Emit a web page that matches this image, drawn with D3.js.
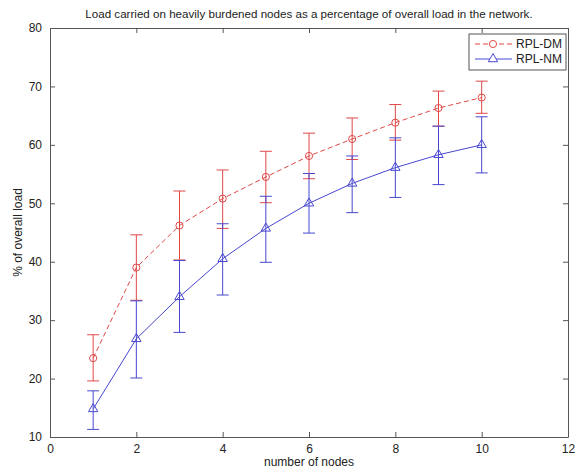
<!DOCTYPE html>
<html>
<head>
<meta charset="utf-8">
<script src="https://cdn.jsdelivr.net/npm/d3@7"></script>
<style>
  body { margin: 0; background: #fff; }
  text { font-family: "Liberation Sans", Arial, sans-serif; fill: #222; }
</style>
</head>
<body>
<div id="chart"></div>
<script>
var width = 583
var height = 472
var margin = { top: 28, right: 15, bottom: 35, left: 50 }

// values
var nodes = [1, 2, 3, 4, 5, 6, 7, 8, 9, 10]
var dmMean = [23.5, 39.0, 46.2, 50.8, 54.5, 58.1, 61.0, 63.8, 66.3, 68.1]
var dmLow = [19.6, 33.4, 40.3, 45.7, 50.1, 54.2, 57.5, 60.8, 63.2, 65.4]
var dmHigh = [27.5, 44.6, 52.1, 55.7, 58.9, 62.0, 64.6, 66.9, 69.2, 70.9]
var nmMean = [14.8, 26.8, 34.0, 40.5, 45.7, 50.0, 53.4, 56.1, 58.3, 60.0]
var nmLow = [11.3, 20.1, 27.9, 34.3, 39.9, 44.9, 48.4, 51.0, 53.2, 55.2]
var nmHigh = [17.9, 33.3, 40.2, 46.5, 51.2, 55.1, 58.1, 61.2, 63.2, 64.8]
var xTicks = [0, 2, 4, 6, 8, 10, 12]
var yTicks = [10, 20, 30, 40, 50, 60, 70, 80]

var series = [
  { name: "RPL-DM", mean: dmMean, low: dmLow, high: dmHigh, color: "#e04848", dash: "5,3", marker: "circle" },
  { name: "RPL-NM", mean: nmMean, low: nmLow, high: nmHigh, color: "#4848d0", dash: null, marker: "triangle" }
]

var svg = d3.select("#chart")
  .append("svg")
  .attr("width", width)
  .attr("height", height)

var x = d3.scaleLinear().domain([0, 12]).range([margin.left, width - margin.right])
var y = d3.scaleLinear().domain([10, 80]).range([height - margin.bottom, margin.top])

var axisColor = "#555"

// axes with inward ticks, box style
svg.append("g")
  .attr("transform", "translate(0," + y(10) + ")")
  .call(d3.axisBottom(x).tickValues(xTicks).tickSizeInner(-5).tickSizeOuter(0).tickPadding(7))
svg.append("g")
  .attr("transform", "translate(0," + y(80) + ")")
  .call(d3.axisTop(x).tickValues(xTicks).tickSizeInner(-5).tickSizeOuter(0).tickFormat(""))
svg.append("g")
  .attr("transform", "translate(" + x(0) + ",0)")
  .call(d3.axisLeft(y).tickValues(yTicks).tickSizeInner(-5).tickSizeOuter(0).tickPadding(8))
svg.append("g")
  .attr("transform", "translate(" + x(12) + ",0)")
  .call(d3.axisRight(y).tickValues(yTicks).tickSizeInner(-5).tickSizeOuter(0).tickFormat(""))

svg.selectAll(".domain, .tick line").attr("stroke", axisColor)
svg.selectAll(".tick text").style("font-size", "12px").attr("fill", "#222")

var line = d3.line()
  .x(function (d) { return x(d[0]) })
  .y(function (d) { return y(d[1]) })

series.forEach(function (s) {
  var g = svg.append("g")
  var pts = nodes.map(function (n, i) { return [n, s.mean[i], s.low[i], s.high[i]] })

  // error bars
  g.selectAll("line.err")
    .data(pts).enter()
    .append("line")
    .attr("x1", function (d) { return x(d[0]) })
    .attr("x2", function (d) { return x(d[0]) })
    .attr("y1", function (d) { return y(d[2]) })
    .attr("y2", function (d) { return y(d[3]) })
    .attr("stroke", s.color)
  ;[2, 3].forEach(function (k) {
    g.selectAll("line.cap" + k)
      .data(pts).enter()
      .append("line")
      .attr("x1", function (d) { return x(d[0]) - 6 })
      .attr("x2", function (d) { return x(d[0]) + 6 })
      .attr("y1", function (d) { return y(d[k]) })
      .attr("y2", function (d) { return y(d[k]) })
      .attr("stroke", s.color)
  })

  g.append("path")
    .datum(pts)
    .attr("d", line)
    .attr("fill", "none")
    .attr("stroke", s.color)
    .attr("stroke-dasharray", s.dash)

  var sym = s.marker === "circle" ? d3.symbolCircle : d3.symbolTriangle
  g.selectAll("path.mk")
    .data(pts).enter()
    .append("path")
    .attr("d", d3.symbol().type(sym).size(s.marker === "circle" ? 40 : 38))
    .attr("transform", function (d) { return "translate(" + x(d[0]) + "," + y(d[1]) + ")" })
    .attr("fill", "none")
    .attr("stroke", s.color)
})

// legend
var legend = svg.append("g").attr("transform", "translate(469,34)")
legend.append("rect")
  .attr("width", 97).attr("height", 36)
  .attr("fill", "#fff").attr("stroke", axisColor)
series.forEach(function (s, i) {
  var ly = 10 + i * 15
  legend.append("line")
    .attr("x1", 6).attr("x2", 43).attr("y1", ly).attr("y2", ly)
    .attr("stroke", s.color).attr("stroke-dasharray", s.dash)
  legend.append("path")
    .attr("d", d3.symbol().type(s.marker === "circle" ? d3.symbolCircle : d3.symbolTriangle).size(s.marker === "circle" ? 40 : 38))
    .attr("transform", "translate(24," + ly + ")")
    .attr("fill", "#fff").attr("stroke", s.color)
  legend.append("text")
    .attr("x", 47).attr("y", ly + 4)
    .style("font-size", "12px")
    .text(s.name)
})

// title and axis labels
svg.append("text")
  .attr("x", 309).attr("y", 18)
  .attr("text-anchor", "middle")
  .style("font-size", "11.6px")
  .text("Load carried on heavily burdened nodes as a percentage of overall load in the network.")

svg.append("text")
  .attr("x", x(6)).attr("y", 466)
  .attr("text-anchor", "middle")
  .style("font-size", "12px")
  .text("number of nodes")

svg.append("text")
  .attr("transform", "translate(22," + y(45) + ") rotate(-90)")
  .attr("text-anchor", "middle")
  .style("font-size", "12px")
  .text("% of overall load")
</script>
</body>
</html>
